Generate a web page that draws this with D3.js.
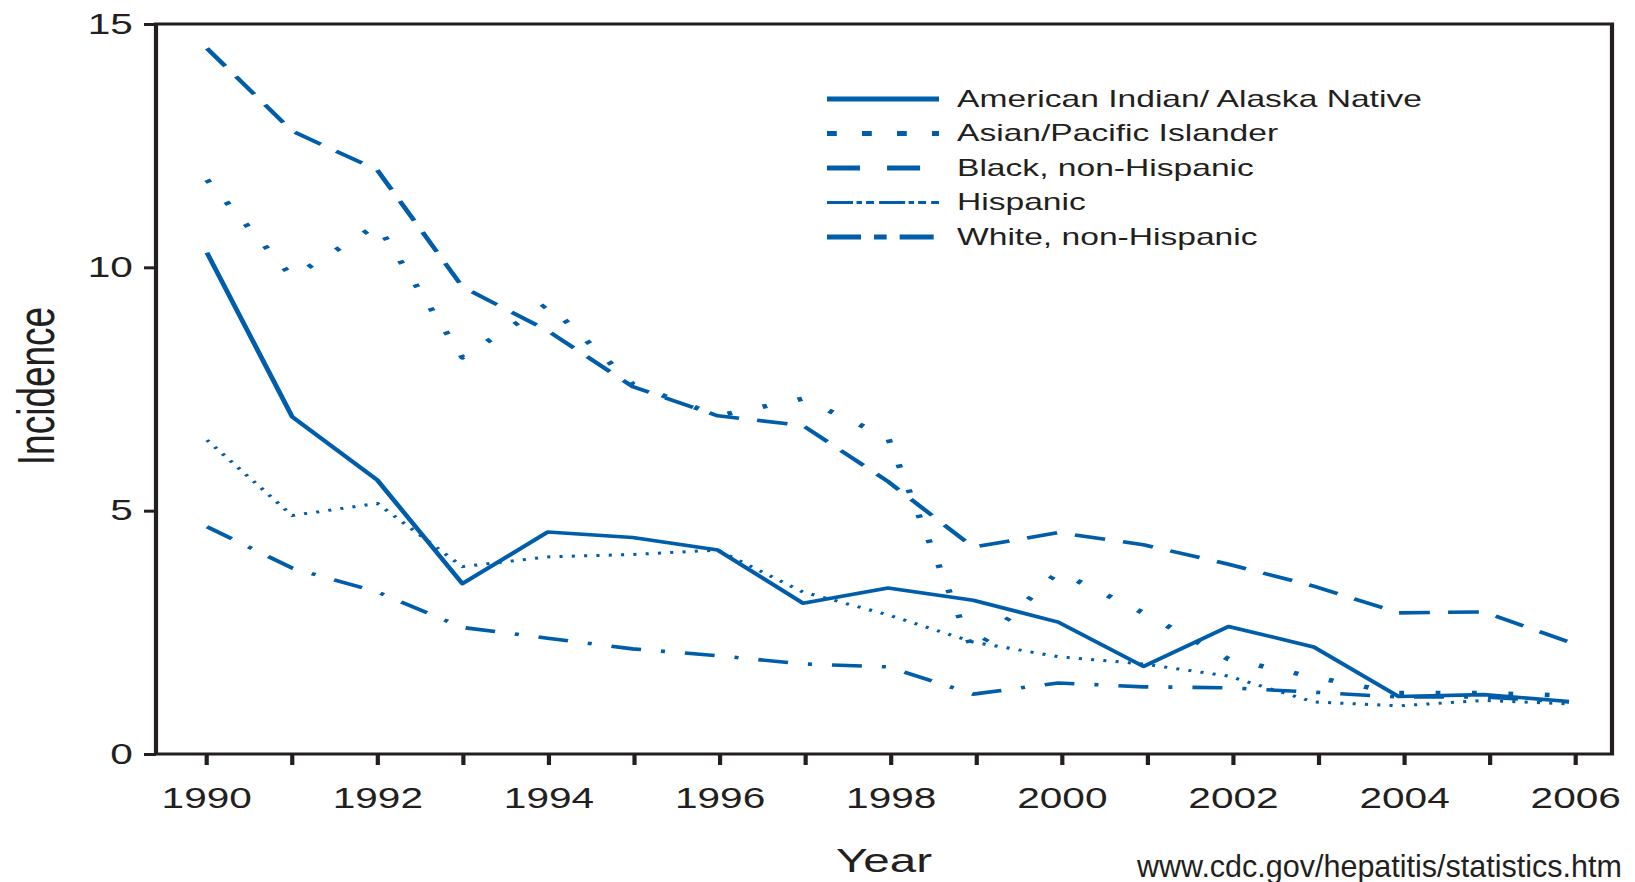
<!DOCTYPE html>
<html lang="en">
<head>
<meta charset="UTF-8">
<title>Hepatitis A incidence by race/ethnicity, 1990-2006</title>
<script src="https://cdn.jsdelivr.net/npm/d3@7"></script>
<style>
  body { margin: 0; background: #fff; }
  text { font-family: "Liberation Sans", Arial, Helvetica, sans-serif; fill: #231f20; }
</style>
</head>
<body>
<div id="chart"></div>
<script>

var years = [1990, 1991, 1992, 1993, 1994, 1995, 1996, 1997, 1998, 1999, 2000, 2001, 2002, 2003, 2004, 2005, 2006];
var tickYears = [1990, 1992, 1994, 1996, 1998, 2000, 2002, 2004, 2006];
var yTicks = [0, 5, 10, 15];

var aian     = [10.3, 6.93, 5.63, 3.5, 4.56, 4.45, 4.19, 3.1, 3.41, 3.16, 2.71, 1.8, 2.62, 2.2, 1.18, 1.22, 1.08];
var asian    = [11.8, 9.8, 10.87, 8.15, 9.25, 7.6, 6.95, 7.3, 6.5, 2.1, 3.75, 2.9, 1.95, 1.58, 1.25, 1.25, 1.2];
var black    = [14.5, 12.8, 12.0, 9.6, 8.7, 7.55, 6.95, 6.75, 5.6, 4.25, 4.55, 4.3, 3.9, 3.45, 2.9, 2.92, 2.3];
var hispanic = [6.45, 4.9, 5.15, 3.85, 4.05, 4.1, 4.19, 3.33, 2.86, 2.3, 2.0, 1.85, 1.6, 1.07, 0.99, 1.1, 1.03];
var white    = [4.67, 3.82, 3.33, 2.6, 2.38, 2.16, 2.02, 1.85, 1.79, 1.23, 1.46, 1.38, 1.36, 1.27, 1.17, 1.17, 1.07];

var names = ["American Indian/ Alaska Native", "Asian/Pacific Islander", "Black, non-Hispanic", "Hispanic", "White, non-Hispanic"];

var w = 1635, h = 882;
var sx = 1.4; // the source picture is stretched sideways, so draw in a squeezed frame
var blue = "#005da9";
var ink = "#231f20";

// line styles: chart dash, legend dash, widths
var series = [
  {name: names[3], values: hispanic, dash: "2.2,6.6", width: 3, legDash: "18.6,2.5,3.9,2.9,5.7,3.6", legWidth: 3},
  {name: names[4], values: white, dash: "21.4,14.3,2.9,14.3", width: 3.6, legDash: "24.3,9.3,9,9.3", legWidth: 5},
  {name: names[1], values: asian, dash: "3.4,22.6", width: 4.6, legDash: "7,18", legWidth: 5},
  {name: names[2], values: black, dash: "22,13", width: 3.6, legDash: "23.6,19.3", legWidth: 5},
  {name: names[0], values: aian, dash: null, width: 3.6, legDash: null, legWidth: 5}
];

var svg = d3.select('#chart')
  .append('svg')
  .attr('width', w)
  .attr('height', h);

svg.append('rect').attr('width', w).attr('height', h).attr('fill', '#fff');

var g = svg.append('g').attr('transform', 'scale(' + sx + ',1)');

var plotLeft = 156 / sx, plotRight = 1612 / sx;

var x = d3.scaleLinear().domain([1990, 2006]).range([206 / sx, 1575 / sx]);
var xLine = d3.scaleLinear().domain([1990, 2006]).range([207 / sx, 1569 / sx]);
var y = d3.scaleLinear().domain([0, 15]).range([754, 24]);

// frame
g.append('rect')
  .attr('x', plotLeft)
  .attr('y', y(15))
  .attr('width', plotRight - plotLeft)
  .attr('height', y(0) - y(15))
  .attr('fill', 'none')
  .attr('stroke', ink)
  .attr('stroke-width', 3);

// x axis
var xAxis = d3.axisBottom(x)
  .tickValues(years)
  .tickSize(11)
  .tickSizeOuter(0)
  .tickFormat(d => tickYears.indexOf(d) >= 0 ? d : '');

var gx = g.append('g')
  .attr('transform', 'translate(0,' + y(0) + ')')
  .call(xAxis);
gx.select('.domain').remove();
gx.selectAll('line').attr('stroke', ink).attr('stroke-width', 3);
gx.selectAll('text')
  .attr('y', 54)
  .attr('dy', null)
  .attr('fill', ink)
  .style('font-size', '29px');

// y axis
var yAxis = d3.axisLeft(y)
  .tickValues(yTicks)
  .tickSize(12 / sx)
  .tickSizeOuter(0)
  .tickPadding(8)
  .tickFormat(d3.format('d'));

var gy = g.append('g')
  .attr('transform', 'translate(' + plotLeft + ',0)')
  .call(yAxis);
gy.select('.domain').remove();
gy.selectAll('line').attr('stroke', ink).attr('stroke-width', 3);
gy.selectAll('text')
  .attr('fill', ink)
  .style('font-size', '29px');

// data lines
var line = d3.line()
  .x((d, i) => xLine(years[i]))
  .y(d => y(d));

series.forEach(function(s) {
  g.append('path')
    .datum(s.values)
    .attr('d', line)
    .attr('fill', 'none')
    .attr('stroke', blue)
    .attr('stroke-width', s.width)
    .attr('stroke-linejoin', 'round')
    .attr('stroke-dasharray', s.dash);
});

// legend
var legX0 = 827 / sx, legX1 = 939 / sx, legTextX = 957 / sx;
var legY = d3.scalePoint().domain(names).range([99, 237]);

names.forEach(function(n) {
  var s = series.find(d => d.name === n);
  g.append('line')
    .attr('x1', legX0).attr('x2', legX1)
    .attr('y1', legY(n)).attr('y2', legY(n))
    .attr('stroke', blue)
    .attr('stroke-width', s.legWidth)
    .attr('stroke-dasharray', s.legDash);
  g.append('text')
    .attr('x', legTextX)
    .attr('y', legY(n) + 8)
    .style('font-size', '24px')
    .text(n);
});

// axis titles
g.append('text')
  .attr('x', 884 / sx)
  .attr('y', 872)
  .attr('text-anchor', 'middle')
  .style('font-size', '34px')
  .text('Year');

g.append('text')
  .attr('transform', 'translate(' + (54 / sx) + ',386) rotate(-90)')
  .attr('text-anchor', 'middle')
  .style('font-size', '37px')
  .text('Incidence');

// source note sits outside the stretched frame
svg.append('text')
  .attr('x', 1137)
  .attr('y', 877)
  .style('font-size', '30.5px')
  .attr('fill', '#000')
  .text('www.cdc.gov/hepatitis/statistics.htm');

</script>
</body>
</html>
